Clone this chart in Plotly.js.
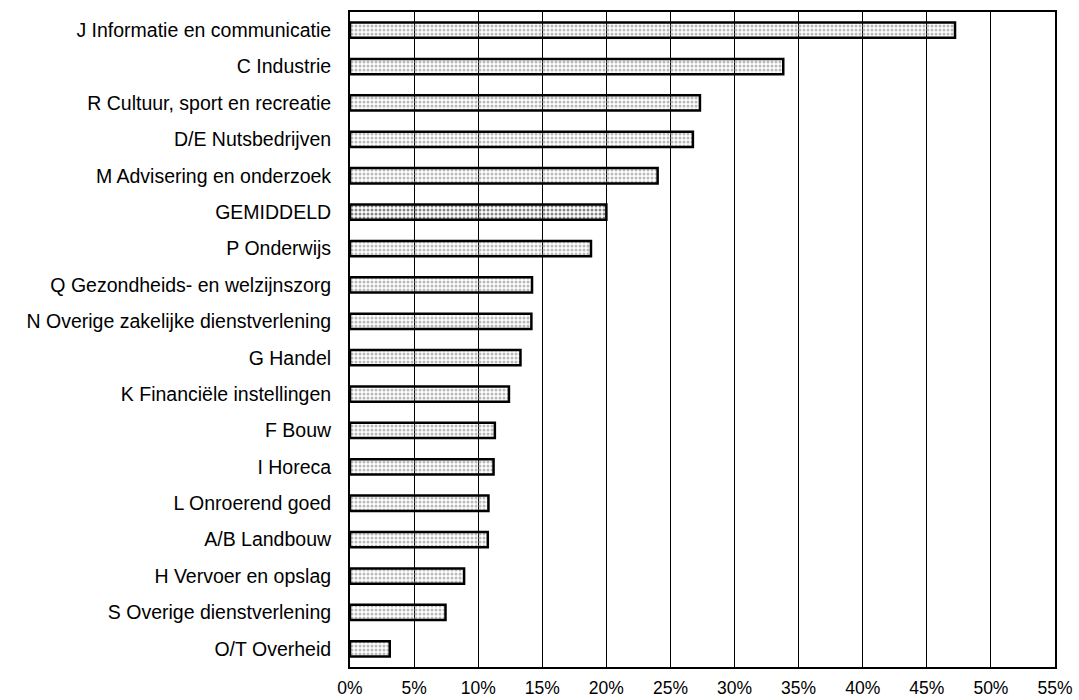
<!DOCTYPE html>
<html>
<head>
<meta charset="utf-8">
<script src="https://cdn.plot.ly/plotly-3.0.1.min.js"></script>
<style>html,body{margin:0;padding:0;background:#fff;}#chart{width:1079px;height:700px;}</style>
</head>
<body>
<div id="chart"></div>
<script>
const categories = [
  "J Informatie en communicatie",
  "C Industrie",
  "R Cultuur, sport en recreatie",
  "D/E Nutsbedrijven",
  "M Advisering en onderzoek",
  "GEMIDDELD",
  "P Onderwijs",
  "Q Gezondheids- en welzijnszorg",
  "N Overige zakelijke dienstverlening",
  "G Handel",
  "K Financiële instellingen",
  "F Bouw",
  "I Horeca",
  "L Onroerend goed",
  "A/B Landbouw",
  "H Vervoer en opslag",
  "S Overige dienstverlening",
  "O/T Overheid"
];
const values = [47.2, 33.8, 27.3, 26.75, 24.0, 20.0, 18.8, 14.2, 14.15, 13.3, 12.4, 11.3, 11.2, 10.8, 10.75, 8.9, 7.45, 3.1];
const tickVals = [0, 5, 10, 15, 20, 25, 30, 35, 40, 45, 50, 55];
const tickText = ["0%", "5%", "10%", "15%", "20%", "25%", "30%", "35%", "40%", "45%", "50%", "55%"];

const bg = categories.map(c => c === "GEMIDDELD" ? "#858585" : "#bababa");
const fg = categories.map(c => c === "GEMIDDELD" ? "#333333" : "#6e6e6e");

const trace = {
  type: "bar",
  orientation: "h",
  y: categories,
  x: values,
  width: 0.42,
  marker: {
    color: bg,
    line: {color: "#000", width: 2.5},
    pattern: {shape: ".", size: 4, solidity: 0.45, fgcolor: fg, bgcolor: bg, fillmode: "replace"}
  },
  hoverinfo: "skip"
};

const layout = {
  width: 1079, height: 700,
  margin: {l: 350, r: 24, t: 12, b: 33},
  paper_bgcolor: "#fff", plot_bgcolor: "#fff",
  showlegend: false,
  font: {family: "Liberation Sans, Arial, sans-serif", color: "#000", size: 19},
  xaxis: {
    range: [0, 55],
    tickvals: tickVals, ticktext: tickText,
    showgrid: true, gridcolor: "#000", gridwidth: 1,
    zeroline: false,
    showline: true, linecolor: "#000", linewidth: 2, mirror: true,
    ticks: "outside", ticklen: 4, tickcolor: "rgba(0,0,0,0)",
    tickfont: {size: 17.5}
  },
  yaxis: {
    type: "category",
    autorange: "reversed",
    showgrid: false, zeroline: false,
    showline: true, linecolor: "#000", linewidth: 2, mirror: true,
    ticks: "outside", ticklen: 13, tickcolor: "rgba(0,0,0,0)",
    tickfont: {size: 19.5}
  },
  bargap: 0.58
};

Plotly.newPlot("chart", [trace], layout, {displayModeBar: false, staticPlot: true});
</script>
</body>
</html>
